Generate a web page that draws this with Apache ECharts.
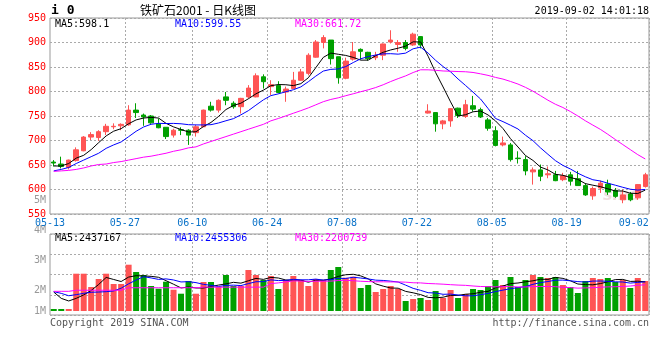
<!DOCTYPE html>
<html><head><meta charset="utf-8">
<script src="https://cdn.jsdelivr.net/npm/echarts@6/dist/echarts.min.js"></script>
<style>html,body{margin:0;padding:0;background:#fff}#c{width:660px;height:360px}</style>
</head><body><div id="c"></div>
<script>
// ---- data ----
const dates = ['05-13','05-14','05-15','05-16','05-17','05-20','05-21','05-22','05-23','05-24',
'05-27','05-28','05-29','05-30','05-31','06-03','06-04','06-05','06-06','06-10',
'06-11','06-12','06-13','06-14','06-17','06-18','06-19','06-20','06-21','06-24',
'06-25','06-26','06-27','06-28','07-01','07-02','07-03','07-04','07-05','07-08',
'07-09','07-10','07-11','07-12','07-15','07-16','07-17','07-18','07-19','07-22',
'07-23','07-24','07-25','07-26','07-29','07-30','07-31','08-01','08-02','08-05',
'08-06','08-07','08-08','08-09','08-12','08-13','08-14','08-15','08-16','08-19',
'08-20','08-21','08-22','08-23','08-26','08-27','08-28','08-29','08-30','09-02'];
const opens  = [656,652,645,659,679,707,706,718,728,730,732,762,752,750,734,727,711,722,721,716,
728,770,762,789,776,769,789,789,830,810,812,799,806,823,837,870,900,905,871,827,
866,886,880,869,874,901,896,900,895,912,756,757,734,740,766,749,771,763,742,720,
691,691,664,661,636,640,630,630,620,630,622,608,587,603,611,598,579,591,583,606];
const closes = [654,647,660,681,707,712,718,729,729,733,762,757,748,736,726,708,721,721,711,728,
762,762,782,782,769,786,807,832,820,814,798,805,823,840,874,901,910,867,828,862,
881,882,867,873,897,905,900,888,917,895,760,734,740,765,751,773,764,748,725,690,
695,661,663,638,640,627,632,618,628,617,608,589,602,613,595,586,589,579,610,630];
const lows   = [647,643,641,657,678,701,699,711,723,721,730,746,730,734,725,703,706,711,691,708,
727,759,757,772,765,755,786,788,806,793,796,779,805,822,833,869,888,855,816,825,
863,865,863,864,864,898,881,884,893,888,755,718,723,728,746,746,759,746,720,688,
688,657,653,629,610,617,623,617,617,608,608,587,579,593,589,583,572,576,579,604];
const highs  = [660,667,661,686,709,717,721,734,735,735,772,776,755,752,745,727,724,727,723,732,
763,779,784,799,780,787,813,837,835,823,821,810,840,846,878,905,915,905,871,869,
901,888,881,881,898,925,905,905,920,913,774,757,742,766,767,783,791,767,746,729,
708,695,678,668,645,651,647,638,634,636,638,613,606,618,620,603,600,595,611,634];
const volumes = [168000,168000,168000,3127000,3127000,2012000,2682000,3127000,2263000,2263000,
3881000,3269000,3018000,2096000,1869000,2456000,1785000,1450000,2515000,1450000,
2431000,2431000,2037000,3018000,2096000,2096000,3437000,3018000,2598000,2934000,
1844000,2598000,2934000,2598000,2096000,2682000,2598000,3437000,3688000,2791000,
2875000,1928000,2179000,1593000,1844000,2096000,1844000,838000,1006000,1090000,
922000,1676000,1090000,1760000,1090000,1425000,1844000,1760000,2096000,2598000,
2179000,2850000,2012000,2598000,3018000,2850000,2766000,2850000,2179000,2012000,
1509000,2515000,2766000,2682000,2766000,2431000,2598000,1928000,2766000,2515000];
// moving-average values before a full window exists
const ma5Head  = [648,648,653,664];
const ma10Head = [638,641,645,653,660,667,674,684,691];
const ma30Head = [637,638,639,641,644,648,651,652,655,657,660,663,666,668,671,674,678,681,685,687,
693,698,703,708,713,718,723,728,733];
const vma5Head  = [1590000,1060000,840000,1060000];
const vma10Head = [1620000,1480000,1280000,1370000,1480000,1570000,1590000,1620000,1680000];
const vma30Head = [1650000,1650000,1650000,1740000,1740000,1740000,1740000,1740000,1740000,1740000,
1950000,1950000,1950000,1950000,1950000,1950000,1950000,1950000,1950000,1950000,
2000000,2000000,2000000,2000000,2000000,2000000,2000000,2000000,2000000];
const priceTicks = {min:550, max:950, step:50};
const dateLabelIdx = [0,10,19,29,39,49,59,69,79];
const gridLineIdx = [10,19,29,39,49,59,69];
const priceLegend = ['MA5:598.1','MA10:599.55','MA30:661.72'];
const volLegend = ['MA5:2437167','MA10:2455306','MA30:2200739'];
const volTickLabels = ['5M','4M','3M','2M','1M'];
const titleText = '铁矿石2001 - 日K线图';
const codeText = 'i 0';
const timeText = '2019-09-02 14:01:18';
const copyText = 'Copyright 2019 SINA.COM';
const urlText = 'http://finance.sina.com.cn';

// ---- helpers ----
function ma(src, n, head){
  return src.map((_, i) => {
    if (i < n - 1) return head[i];
    let s = 0; for (let k = i - n + 1; k <= i; k++) s += src[k];
    return +(s / n).toFixed(2);
  });
}
const UP = '#ff5454', DOWN = '#00a000';
const MONO = 'DejaVu Sans Mono';
const candles = dates.map((d, i) => [opens[i], closes[i], lows[i], highs[i]]);
const volData = volumes.map((v, i) => ({value: v, itemStyle: {color: closes[i] >= opens[i] ? UP : DOWN}}));
const dotted = {color: '#aaaaaa', type: [2, 2], width: 1};

const chart = echarts.init(document.getElementById('c'), null, {renderer: 'canvas', width: 660, height: 360});
const legendStyle = (x, y, t, c) => ({type: 'text', left: x, top: y, silent: true,
  style: {text: t, fill: c, font: '10px "' + MONO + '"'}});
const volLabelY = [195, 225.5, 255.5, 285.5, 306];

const option = {
  animation: false,
  backgroundColor: '#ffffff',
  grid: [
    {left: 50, top: 18, width: 599, height: 196, show: true, borderColor: '#999', borderWidth: 1, backgroundColor: 'transparent'},
    {left: 50, top: 234, width: 599, height: 81, show: true, borderColor: '#999', borderWidth: 1, backgroundColor: 'transparent'}
  ],
  xAxis: [
    {type: 'category', gridIndex: 0, data: dates, boundaryGap: true,
     axisLine: {show: false}, axisTick: {show: false},
     axisLabel: {interval: (i) => dateLabelIdx.includes(i), color: '#0a72c8', fontFamily: MONO, fontSize: 10, margin: 4,
       formatter: (v, i) => (i === dates.length - 1 ? '{e|' + v + '}' : '{n|' + v + '}'),
       rich: {n: {padding: [0, 7.5, 0, 0], color: '#0a72c8', fontFamily: MONO, fontSize: 10},
              e: {padding: [0, 23, 0, 0], color: '#0a72c8', fontFamily: MONO, fontSize: 10}}},
     splitLine: {show: true, interval: (i) => gridLineIdx.includes(i), lineStyle: dotted}},
    {type: 'category', gridIndex: 1, data: dates, boundaryGap: true,
     axisLine: {show: false}, axisTick: {show: false}, axisLabel: {show: false},
     splitLine: {show: true, interval: (i) => gridLineIdx.includes(i), lineStyle: dotted}}
  ],
  yAxis: [
    {type: 'value', gridIndex: 0, min: priceTicks.min, max: priceTicks.max, interval: priceTicks.step,
     axisLine: {show: false}, axisTick: {show: false},
     axisLabel: {color: '#ff0000', fontFamily: MONO, fontSize: 10, margin: 4},
     splitLine: {show: true, lineStyle: dotted}},
    {type: 'value', gridIndex: 1, min: -335000, max: 6455000, interval: 1697500,
     axisLine: {show: false}, axisTick: {show: false}, axisLabel: {show: false},
     splitLine: {show: true, lineStyle: dotted}}
  ],
  series: [
    {type: 'candlestick', xAxisIndex: 0, yAxisIndex: 0, data: candles, barWidth: 5,
     itemStyle: {color: UP, color0: DOWN, borderColor: UP, borderColor0: DOWN, borderWidth: 1}},
    {type: 'line', xAxisIndex: 0, yAxisIndex: 0, data: ma(closes, 5, ma5Head), symbol: 'none', lineStyle: {color: '#000', width: 1}, z: 5},
    {type: 'line', xAxisIndex: 0, yAxisIndex: 0, data: ma(closes, 10, ma10Head), symbol: 'none', lineStyle: {color: '#0000ff', width: 1}, z: 5},
    {type: 'line', xAxisIndex: 0, yAxisIndex: 0, data: ma(closes, 30, ma30Head), symbol: 'none', lineStyle: {color: '#ff00ff', width: 1}, z: 5},
    {type: 'bar', xAxisIndex: 1, yAxisIndex: 1, data: volData, barWidth: 6},
    {type: 'line', xAxisIndex: 1, yAxisIndex: 1, data: ma(volumes, 5, vma5Head), symbol: 'none', lineStyle: {color: '#000', width: 1}, z: 5},
    {type: 'line', xAxisIndex: 1, yAxisIndex: 1, data: ma(volumes, 10, vma10Head), symbol: 'none', lineStyle: {color: '#0000ff', width: 1}, z: 5},
    {type: 'line', xAxisIndex: 1, yAxisIndex: 1, data: ma(volumes, 30, vma30Head), symbol: 'none', lineStyle: {color: '#ff00ff', width: 1}, z: 5}
  ],
  graphic: [
    {type: 'text', left: 51, top: 4, style: {text: codeText, fill: '#000', font: 'bold 13px "' + MONO + '"'}},
    {type: 'text', left: 140, top: 4, style: {text: titleText, fill: '#000', font: '12px "Noto Sans CJK SC"'}},
    {type: 'text', right: 11, top: 6, style: {text: timeText, fill: '#000', font: '10px "' + MONO + '"'}},
    legendStyle(55, 19, priceLegend[0], '#000'),
    legendStyle(175, 19, priceLegend[1], '#0000ff'),
    legendStyle(295, 19, priceLegend[2], '#ff00ff'),
    legendStyle(55, 233, volLegend[0], '#000'),
    legendStyle(175, 233, volLegend[1], '#0000ff'),
    legendStyle(295, 233, volLegend[2], '#ff00ff'),
    ...volTickLabels.map((t, i) => ({type: 'text', right: 614, top: volLabelY[i], silent: true,
      style: {text: t, fill: '#999', font: '10px "' + MONO + '"', textAlign: 'right'}})),
    {type: 'text', left: 50, top: 318, style: {text: copyText, fill: '#555', font: '10px "' + MONO + '"'}},
    {type: 'text', right: 11, top: 318, style: {text: urlText, fill: '#555', font: '10px "' + MONO + '"'}},
    {type: 'text', left: 603, top: 188, z: 0, style: {text: 'sina', fill: 'rgba(200,120,120,0.25)', font: 'italic bold 16px "DejaVu Sans"'}}
  ]
};
chart.setOption(option);
</script></body></html>
